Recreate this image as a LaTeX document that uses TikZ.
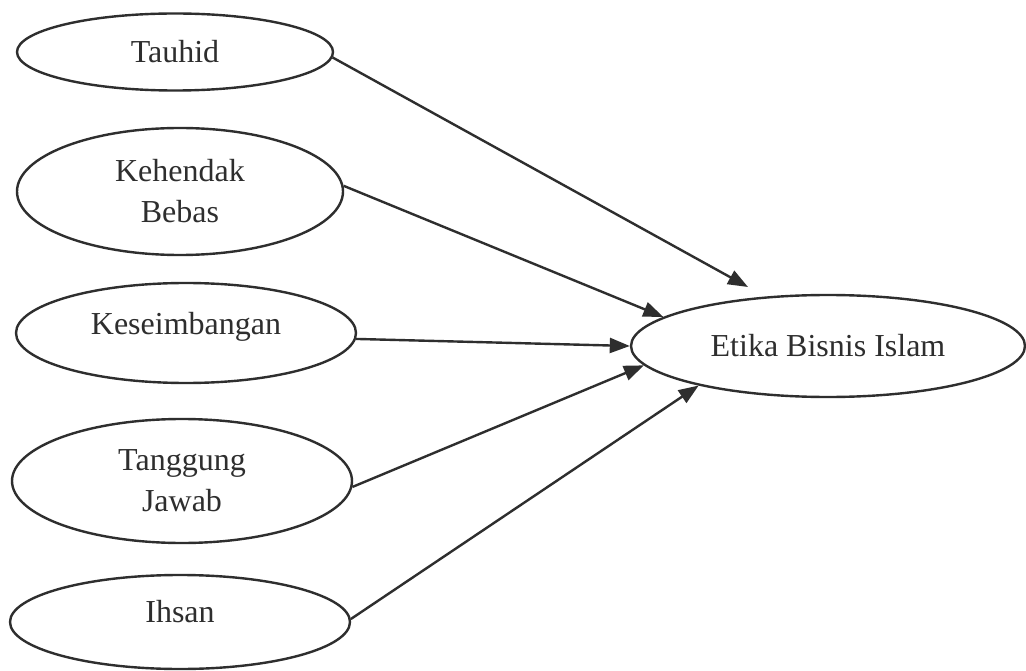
\documentclass[tikz,border=0pt]{standalone}
\usepackage{fontspec}
\setmainfont{Liberation Serif}
\usetikzlibrary{shapes.geometric,arrows.meta}
\definecolor{ink}{HTML}{2E2E2E}
\begin{document}
\begin{tikzpicture}[x=1pt,y=-1pt,
  oval/.style={draw=ink, line width=2.4pt, ellipse, inner sep=0pt, align=center,
    text=ink, font=\fontsize{32}{41}\selectfont},
  link/.style={draw=ink, line width=2.4pt, -{Triangle[length=20pt,width=15pt]}}]
\useasboundingbox (0,0) rectangle (1026,671);
\fill[white] (0,0) rectangle (1026,671);
\node[oval, minimum width=316pt, minimum height=77pt] (tauhid) at (175,52) {Tauhid};
\node[oval, minimum width=326pt, minimum height=127pt] (kehendak) at (180,191.5) {Kehendak\\Bebas};
\node[oval, minimum width=340pt, minimum height=100pt, text height=22pt, text depth=19pt] (kese) at (186,333) {Keseimbangan};
\node[oval, minimum width=340pt, minimum height=124pt] (tanggung) at (182,481) {Tanggung\\Jawab};
\node[oval, minimum width=340pt, minimum height=94pt, text height=22pt, text depth=21pt] (ihsan) at (180,622) {Ihsan};
\node[oval, minimum width=394pt, minimum height=102pt] (etika) at (828,346) {Etika Bisnis Islam};
\coordinate (tauhidtip) at (748,287);
\draw[link] (tauhid.-2) -- (tauhidtip);
\draw[link] (kehendak.2) -- (etika.170.8);
\draw[link] (kese.-2) -- (etika.180);
\draw[link] (tanggung.-2) -- (etika.186.9);
\draw[link] (ihsan.1) -- (etika.197.8);
\end{tikzpicture}
\end{document}
